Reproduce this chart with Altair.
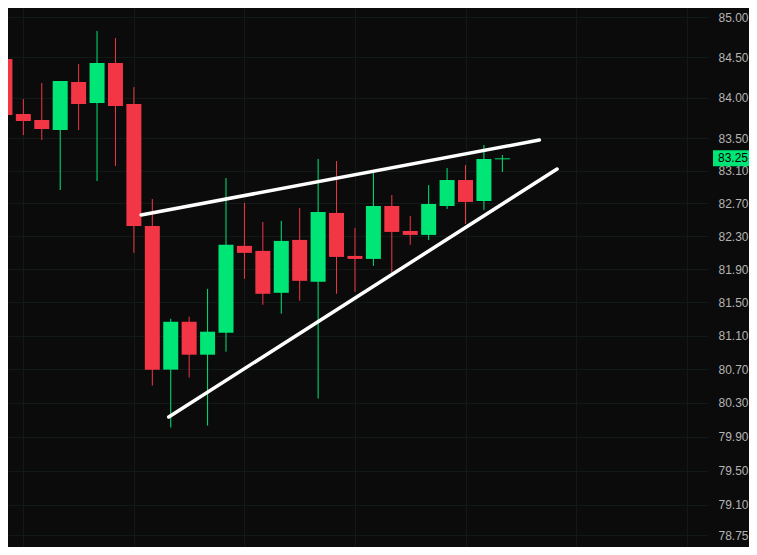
import altair as alt
import pandas as pd

# ---- data ----
idx = list(range(28))
opens = [84.479, 83.796, 83.722, 83.599, 84.193, 83.932, 84.429, 83.920, 82.424, 80.695,
         81.267, 80.873, 81.136, 82.182, 82.121, 81.615, 82.254, 81.747, 82.582, 82.060,
         82.024, 82.667, 82.363, 82.315, 82.667, 82.984, 82.728, 83.238]
highs = [84.55, 83.982, 84.180, 84.205, 84.416, 84.828, 84.741, 84.130, 82.752, 81.303,
         81.327, 81.663, 83.009, 82.704, 82.473, 82.485, 82.643, 83.242, 83.217, 82.400,
         83.094, 82.801, 82.546, 82.923, 83.131, 83.168, 83.414, 83.291]
lows = [83.72, 83.537, 83.475, 82.862, 83.599, 82.972, 83.156, 82.097, 80.505, 80.009,
        80.600, 80.032, 80.909, 81.783, 81.471, 81.363, 81.519, 80.351, 81.603, 81.627,
        81.940, 81.855, 82.194, 82.254, 82.631, 82.448, 82.619, 83.082]
closes = [83.784, 83.710, 83.611, 84.205, 83.920, 84.429, 83.895, 82.424, 80.695, 81.267,
          80.873, 81.148, 82.194, 82.097, 81.603, 82.242, 81.759, 82.594, 82.048, 82.024,
          82.667, 82.351, 82.315, 82.691, 82.984, 82.716, 83.242, 83.250]

# trend lines (start index, start price, end index, end price)
line_x1 = [7.39, 8.89]
line_y1 = [82.557, 80.133]
line_x2 = [29.01, 29.97]
line_y2 = [83.475, 83.119]

price_ticks = [85.00, 84.50, 84.00, 83.50, 83.10, 82.70, 82.30, 81.90, 81.50,
               81.10, 80.70, 80.30, 79.90, 79.50, 79.10, 78.75]
time_grid = [1, 7, 13, 19, 25, 31, 37]
last_price = [83.25]

GREEN = "#00e676"
RED = "#f23645"
BG = "#0b0b0b"
GRID = "#111a16"

df = pd.DataFrame({"i": idx, "open": opens, "high": highs, "low": lows, "close": closes})
df["dir"] = ["up" if c >= o else "down" for o, c in zip(opens, closes)]

lines = pd.DataFrame({"x1": line_x1, "y1": line_y1, "x2": line_x2, "y2": line_y2})
lastdf = pd.DataFrame({"p": last_price, "label": [f"{v:.2f}" for v in last_price]})

xscale = alt.Scale(domain=[0.438, 37.891], nice=False, zero=False)
yscale = alt.Scale(type="log", domain=[78.611, 85.117], nice=False, zero=False)

xaxis = alt.Axis(values=time_grid, labels=False, ticks=False, domain=False,
                 grid=True, gridColor=GRID, gridWidth=1, title=None)
yaxis = alt.Axis(orient="right", values=price_ticks, format=".2f", labels=True,
                 ticks=False, domain=False, grid=True, gridColor=GRID, gridWidth=1,
                 labelColor="#b4b4b4", labelFont="Liberation Sans", labelFontSize=12,
                 labelPadding=10, title=None, labelOverlap=False)

color = alt.Color("dir:N", scale=alt.Scale(domain=["up", "down"], range=[GREEN, RED]), legend=None)

base = alt.Chart(df)

wicks = base.mark_rule(strokeWidth=1, clip=True).encode(
    x=alt.X("i:Q", scale=xscale, axis=xaxis),
    y=alt.Y("low:Q", scale=yscale, axis=yaxis),
    y2="high:Q",
    color=color,
)

bodies = base.mark_bar(size=15, clip=True).encode(
    x=alt.X("i:Q", scale=xscale),
    y=alt.Y("open:Q", scale=yscale),
    y2="close:Q",
    color=color,
)

trend = alt.Chart(lines).mark_rule(color="white", strokeWidth=3.5, strokeCap="round", clip=True).encode(
    x=alt.X("x1:Q", scale=xscale),
    y=alt.Y("y1:Q", scale=yscale),
    x2="x2:Q",
    y2="y2:Q",
)

tag_box = alt.Chart(lastdf).mark_rect(color=GREEN, height=16).encode(
    x=alt.value(705),
    x2=alt.value(741),
    y=alt.Y("p:Q", scale=yscale),
)

tag_text = alt.Chart(lastdf).mark_text(
    align="left", baseline="middle", color="#000000", font="Liberation Sans", fontSize=12
).encode(
    x=alt.value(710),
    y=alt.Y("p:Q", scale=yscale),
    text="label:N",
)

chart = alt.layer(wicks, bodies, trend, tag_box, tag_text).properties(
    width=700, height=539, padding=0, background=BG
).configure_view(stroke=None)

chart.save("out.html", embed_options={"renderer": "svg", "actions": False})
